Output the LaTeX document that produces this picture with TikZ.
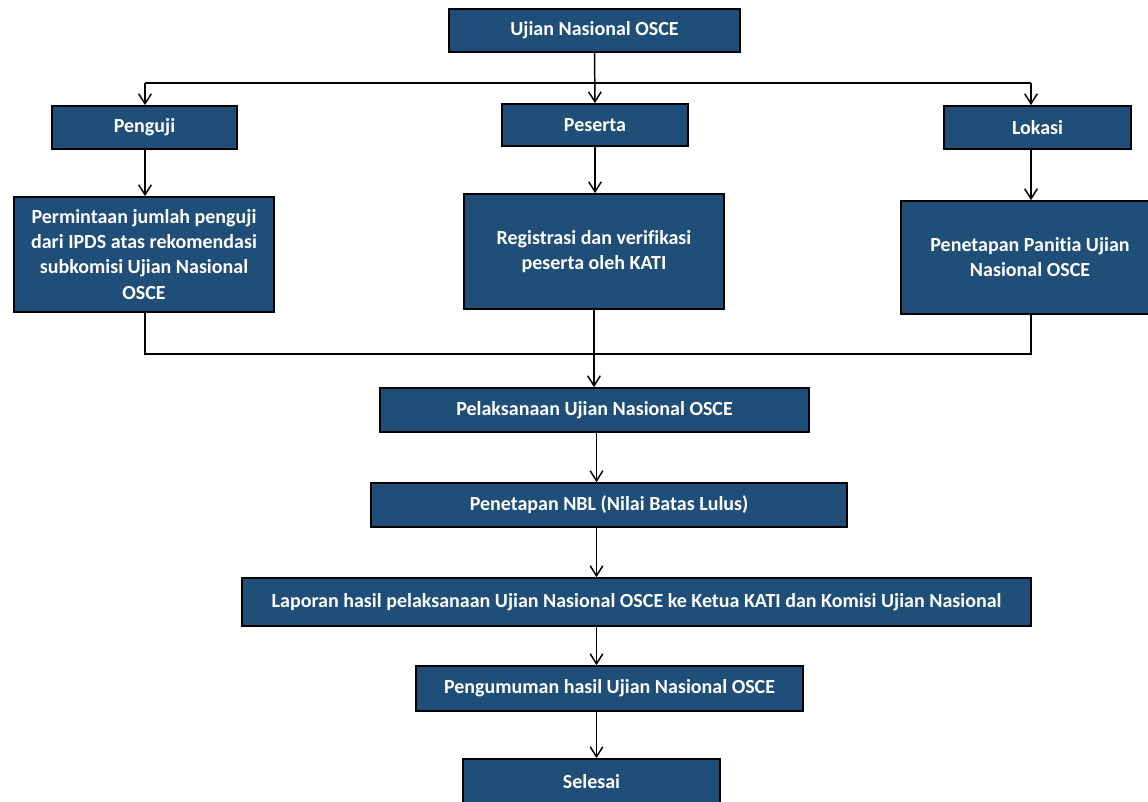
\documentclass[tikz,border=0pt]{standalone}
\usepackage{fontspec}
\setmainfont[Ligatures=NoCommon]{Carlito}
\usetikzlibrary{arrows.meta}
\definecolor{boxblue}{RGB}{31,78,121}
\begin{document}
\begin{tikzpicture}[x=0.75pt,y=-0.75pt,
  bx/.style 2 args={draw=black, line width=1.3pt, fill=boxblue, text=white,
    minimum width=#1*0.75pt, minimum height=#2*0.75pt, inner sep=0pt, align=center,
    font=\fontsize{15}{18.8}\selectfont\bfseries},
  conn/.style={draw=black, line width=1.1pt},
  arr/.style={conn, -{Straight Barb[length=7.5pt,width=9.5pt,line width=1.1pt]}}]
\useasboundingbox (0,0) rectangle (1148,802);
\clip (0,0) rectangle (1148,802);
\node[bx={291}{43}] (top) at (594.5,30.5) {Ujian Nasional OSCE};
\node[bx={185}{43}] (penguji) at (144.5,127.5) {Penguji};
\node[bx={186}{42}] (peserta) at (595,125) {Peserta};
\node[bx={187}{43}] (lokasi) at (1037.5,127.5) {Lokasi};
\node[bx={260}{115}] (minta) at (144,254.5) {Permintaan jumlah penguji\\dari IPDS atas rekomendasi\\subkomisi Ujian Nasional\\OSCE};
\node[bx={260}{115}] (reg) at (594,251.5) {Registrasi dan verifikasi\\peserta oleh KATI};
\node[bx={258}{113}] (panitia) at (1030,257.5) {Penetapan Panitia Ujian\\Nasional OSCE};
\node[bx={429}{44}] (pel) at (594.5,410) {Pelaksanaan Ujian Nasional OSCE};
\node[bx={476}{44}] (nbl) at (609,505) {Penetapan NBL (Nilai Batas Lulus)};
\node[bx={789}{48}] (lap) at (636.5,602) {Laporan hasil pelaksanaan Ujian Nasional OSCE ke Ketua KATI dan Komisi Ujian Nasional};
\node[bx={387}{45}] (peng) at (609.5,688.5) {Pengumuman hasil Ujian Nasional OSCE};
\node[bx={257}{46}] (sel) at (591.5,782) {Selesai};
\coordinate (jL) at (145,83);
\coordinate (jR) at (1031,83);
\coordinate (kL) at (145,354);
\coordinate (kR) at (1031,354);
\coordinate (sp) at (596.5,0);
% top branching
\draw[arr] (top.south) -- (peserta.north);
\draw[conn] (jL) -- (jR);
\draw[arr] (jL) -- (jL |- penguji.north);
\draw[arr] (jR) -- (jR |- lokasi.north);
% column arrows
\draw[arr] (jL |- penguji.south) -- (jL |- minta.north);
\draw[arr] (peserta.south) -- (peserta.south |- reg.north);
\draw[arr] (jR |- lokasi.south) -- (jR |- panitia.north);
% bottom joining
\draw[conn] (kL |- minta.south) -- (kL) -- (kR) -- (kR |- panitia.south);
\draw[arr] (reg.south) -- (reg.south |- pel.north);
% spine
\draw[arr] (sp |- pel.south) -- (sp |- nbl.north);
\draw[arr] (sp |- nbl.south) -- (sp |- lap.north);
\draw[arr] (sp |- lap.south) -- (sp |- peng.north);
\draw[arr] (sp |- peng.south) -- (sp |- sel.north);
\end{tikzpicture}
\end{document}
